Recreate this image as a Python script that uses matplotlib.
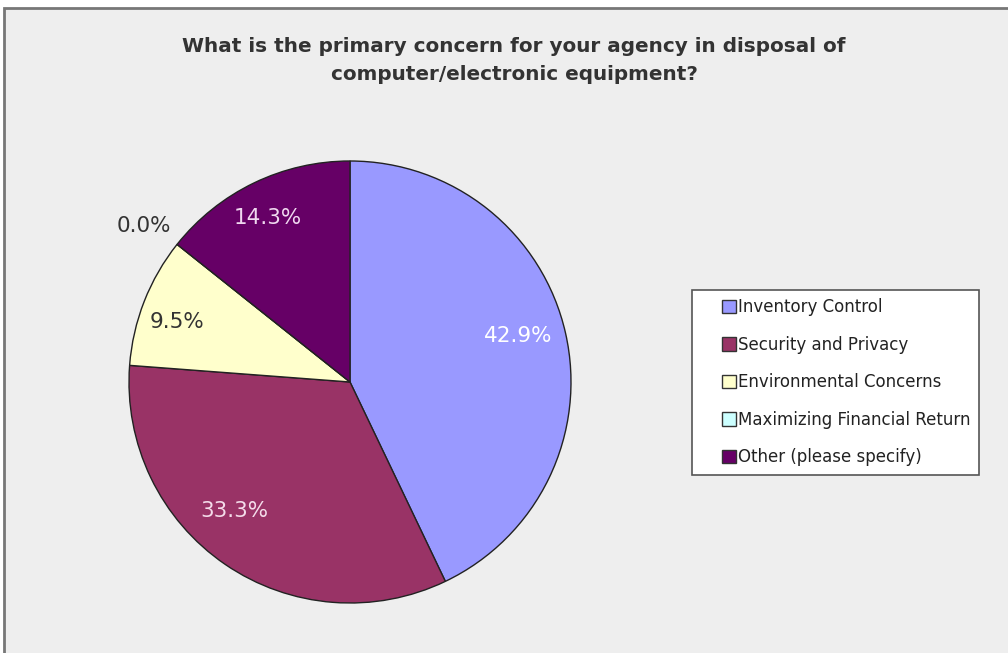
import numpy as np
import matplotlib.pyplot as plt
from matplotlib.patches import Rectangle
from matplotlib.legend_handler import HandlerPatch

categories = ["Inventory Control", "Security and Privacy", "Environmental Concerns",
              "Maximizing Financial Return", "Other (please specify)"]
shares = [42.9, 33.3, 9.5, 0.0, 14.3]
colors = ["#9999ff", "#993366", "#ffffcc", "#ccffff", "#660066"]
label_colors = ["white", "#f4dcea", "#333333", "#333333", "#f0d8f0"]
# radial distance and angular nudge (deg) of each percentage label
label_dist = [0.79, 0.785, 0.83, 1.17, 0.83]
label_nudge = [2.5, -7.6, 2.4, 1.5, 0.9]

W, H = 1008, 653
fig = plt.figure(figsize=(W / 100, H / 100), dpi=100, facecolor="white")

# grey panel behind everything
fig.patches.append(Rectangle((4 / W, -0.05), 1.1, 1 - 8 / H + 0.05,
                             transform=fig.transFigure, facecolor="#eeeeee",
                             edgecolor="#777777", lw=2, zorder=-5))

fig.text(514 / W, 1 - 47 / H, "What is the primary concern for your agency in disposal of",
         ha="center", va="center", fontsize=14.4, fontweight="bold", color="#333333")
fig.text(514 / W, 1 - 74 / H, "computer/electronic equipment?",
         ha="center", va="center", fontsize=14.4, fontweight="bold", color="#333333")

cx, cy, r = 350, 382, 221
ax = fig.add_axes([(cx - r) / W, (H - cy - r) / H, 2 * r / W, 2 * r / H])

wedges, _ = ax.pie(shares, colors=colors, startangle=90, counterclock=False,
                   radius=1.0, normalize=True,
                   wedgeprops=dict(edgecolor="#222222", linewidth=1.0))
ax.set_xlim(-1.0, 1.0)
ax.set_ylim(-1.0, 1.0)
ax.axis("off")

for w, val, c, d, n in zip(wedges, shares, label_colors, label_dist, label_nudge):
    ang = np.deg2rad((w.theta1 + w.theta2) / 2 + n)
    ax.text(d * np.cos(ang), d * np.sin(ang), f"{val:.1f}%", ha="center", va="center",
            fontsize=15.5, color=c)


# small square swatch pushed to the right end of the handle box
def swatch(legend, orig_handle, xdescent, ydescent, width, height, fontsize):
    s = 10
    return Rectangle((width - xdescent - s, (height - s) / 2 - ydescent), s, s)


leg = fig.legend(wedges, categories, loc="upper left",
                 bbox_to_anchor=(692 / W, 1 - 290 / H), frameon=True, fancybox=False,
                 fontsize=12, handlelength=2.15, handleheight=0.7, handletextpad=0.1,
                 labelspacing=1.17, borderpad=0.5, borderaxespad=0, labelcolor="#222222",
                 handler_map={p: HandlerPatch(patch_func=swatch) for p in wedges})
leg.get_frame().set_edgecolor("#555555")
leg.get_frame().set_linewidth(1.2)
leg.get_frame().set_facecolor("white")
leg.get_frame().set_alpha(1)
for h in leg.legend_handles:
    h.set_edgecolor("#333333")
    h.set_linewidth(1.0)

fig.savefig("out.png", dpi=100, facecolor="white")
